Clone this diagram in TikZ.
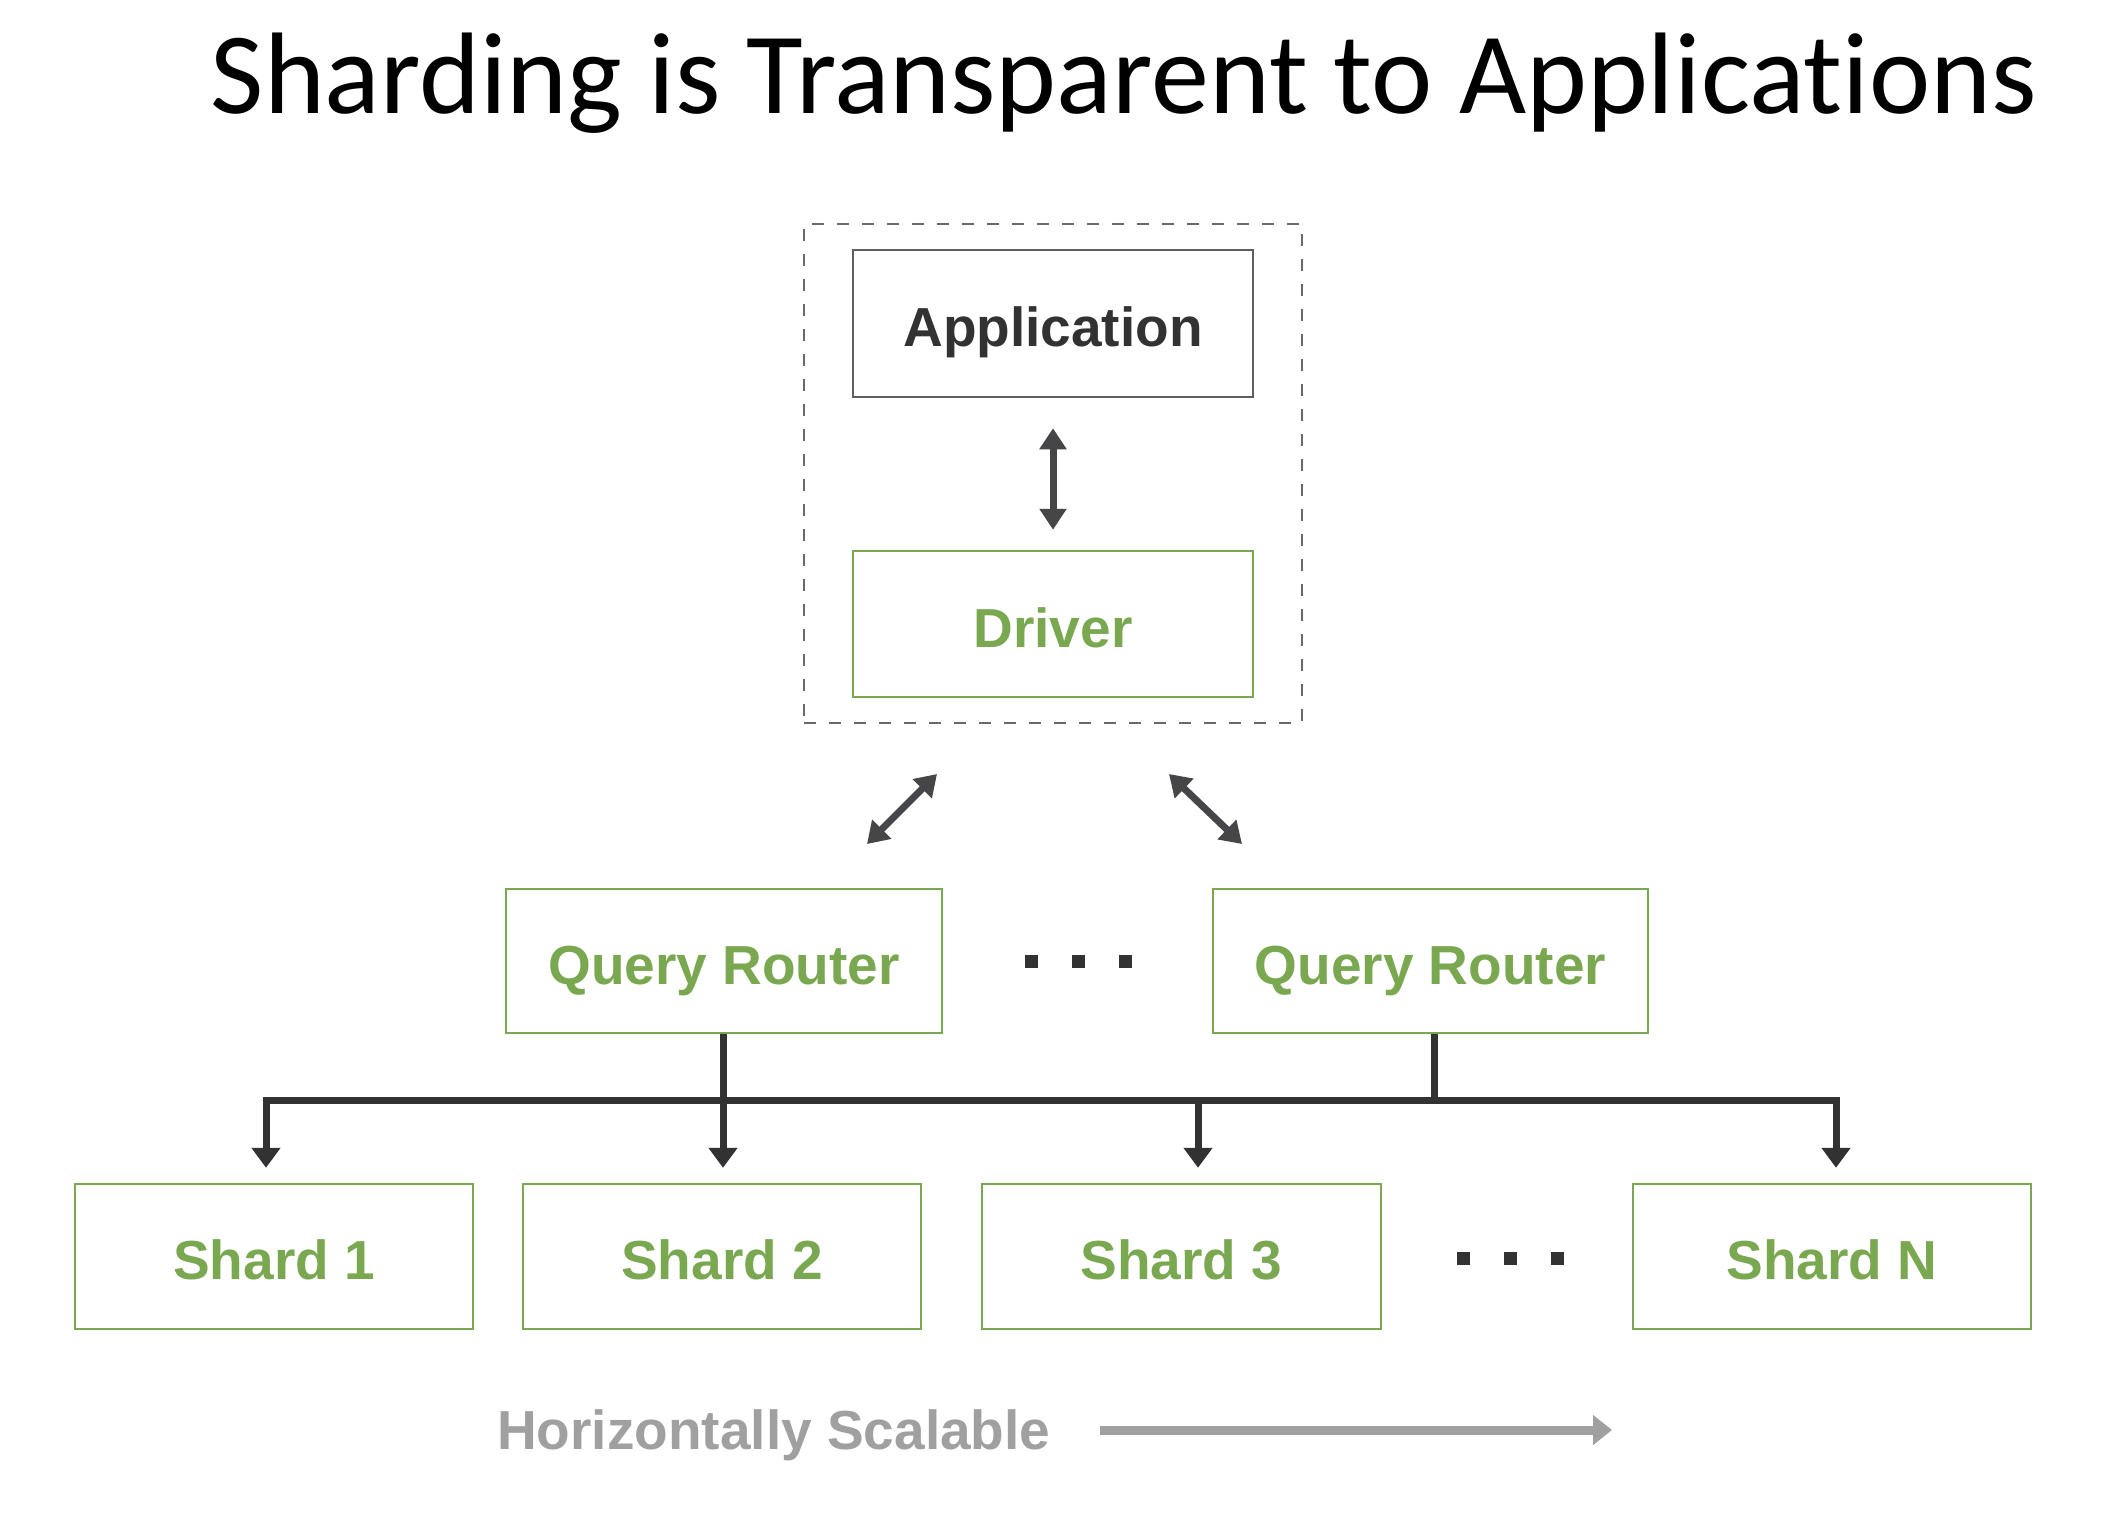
\documentclass[tikz,border=0pt]{standalone}
\usepackage{fontspec}
\setmainfont{Liberation Sans}
\newfontfamily\titlefont[Ligatures=NoCommon]{Carlito}
\usetikzlibrary{arrows.meta}

\definecolor{leafgreen}{RGB}{122,168,80}
\definecolor{inkdark}{RGB}{50,50,50}
\definecolor{arrowgray}{RGB}{70,70,72}
\definecolor{scalegray}{RGB}{160,160,160}
\definecolor{framegray}{RGB}{105,105,105}
\definecolor{appedge}{RGB}{95,95,95}

\begin{document}
\begin{tikzpicture}[x=1pt,y=-1pt,
  box/.style={draw, line width=2.5pt, minimum width=#1, minimum height=146pt,
    inner sep=0pt, font=\fontsize{55}{60}\selectfont\bfseries,
    text height=46pt, text depth=0pt},
  greenbox/.style={box=#1, draw=leafgreen, text=leafgreen},
  clientframe/.style={draw=framegray, line width=2pt, dash pattern=on 12pt off 13pt,
    minimum width=498pt, minimum height=499pt, inner sep=0pt},
  dbltip/.style={line width=7pt, draw=arrowgray,
    {Triangle[width=26pt,length=21pt]}-{Triangle[width=26pt,length=21pt]}},
  busline/.style={line width=7pt, draw=inkdark, line join=miter, line cap=butt},
  droptip/.style={-{Triangle[width=28pt,length=20pt]}},
  dotmark/.style={fill=inkdark, minimum size=13pt, inner sep=0pt},
  scalearrow/.style={line width=9pt, draw=scalegray, -{Triangle[width=29pt,length=19pt]}}
]
% canvas
\fill[white] (0,0) rectangle (2128,1520);
\useasboundingbox (0,0) rectangle (2128,1520);

% heading
\node[anchor=base, font=\titlefont\fontsize{116}{130}\selectfont] (title)
  at (1124,113) {Sharding is Transparent to Applications};

% client side: application and driver
\node[clientframe] (client) at (1053,473.5) {};
\node[box=400pt, draw=appedge, text=inkdark, minimum height=147pt] (app) at (1053,323.5) {Application};
\node[greenbox=400pt] (driver) at (1053,624) {Driver};
\draw[dbltip] ([yshift=-30pt]app.south) -- ([yshift=20pt]driver.north);

% driver <-> routers
\coordinate (la) at (867,844);
\coordinate (lb) at (937,774);
\coordinate (ra) at (1169,774);
\coordinate (rb) at (1242,844);
\draw[dbltip] (la) -- (lb);
\draw[dbltip] (ra) -- (rb);

% query routers
\node[greenbox=436pt, minimum height=144pt] (qr1) at (724,961) {Query Router};
\node[greenbox=435pt, minimum height=144pt] (qr2) at (1430.5,961) {Query Router};
\node[dotmark] (rd1) at (1031,961) {};
\node[dotmark] (rd2) at (1078,961) {};
\node[dotmark] (rd3) at (1125,961) {};

% shards
\node[greenbox=398pt, minimum height=145pt] (s1) at (274,1256.5) {Shard 1};
\node[greenbox=398pt, minimum height=145pt] (s2) at (722,1256.5) {Shard 2};
\node[greenbox=399pt, minimum height=145pt] (s3) at (1181.5,1256.5) {Shard 3};
\node[greenbox=398pt, minimum height=145pt] (sN) at (1832,1256.5) {Shard N};
\node[dotmark] (sd1) at (1463,1258) {};
\node[dotmark] (sd2) at (1510,1258) {};
\node[dotmark] (sd3) at (1557,1258) {};

% routing bus
\coordinate (j1) at (266,1100);
\coordinate (j2) at (723,1100);
\coordinate (j3) at (1198,1100);
\coordinate (j4) at (1836,1100);
\coordinate (jr) at (1434,1100);
\draw[busline] (j2 |- qr1.south) -- (j2);
\draw[busline] (jr |- qr2.south) -- (jr);
\draw[busline, {Triangle[width=28pt,length=20pt]}-{Triangle[width=28pt,length=20pt]},
  shorten <=15pt, shorten >=15pt] (j1 |- s1.north) -- (j1) -- (j4) -- (j4 |- sN.north);
\draw[busline, droptip, shorten >=15pt] (j2) -- (j2 |- s2.north);
\draw[busline, droptip, shorten >=15pt] (j3) -- (j3 |- s3.north);

% scaling note
\node[anchor=base west, text=scalegray, font=\fontsize{55}{60}\selectfont\bfseries, inner sep=0pt]
  (scale) at (497,1449) {Horizontally Scalable};
\coordinate (hs1) at (1100,1430);
\coordinate (hs2) at (1612,1430);
\draw[scalearrow] (hs1) -- (hs2);
\end{tikzpicture}
\end{document}
